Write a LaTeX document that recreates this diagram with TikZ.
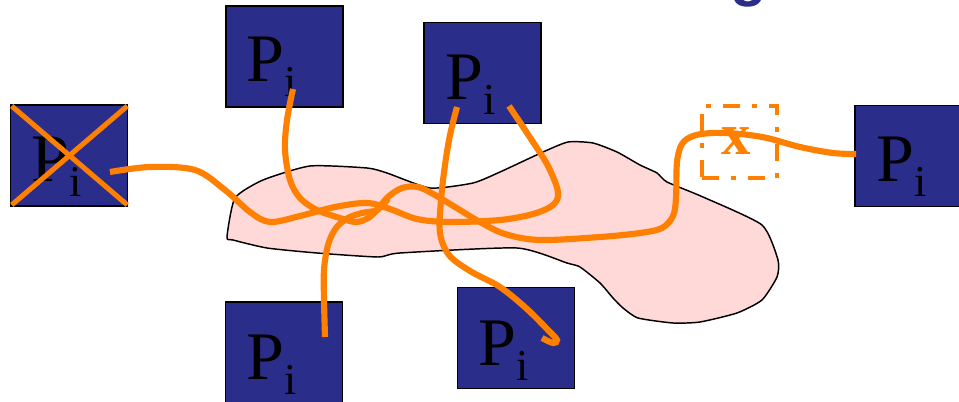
\documentclass[tikz,border=0pt]{standalone}
\usepackage{fontspec}
\setmainfont{Liberation Serif}
\newfontfamily\titlefont{Liberation Sans}
\usetikzlibrary{calc}
\definecolor{boxblue}{RGB}{43,45,139}
\definecolor{wireorange}{RGB}{255,128,0}
\definecolor{blobpink}{RGB}{255,216,216}
\newcommand{\Pisub}{P\raisebox{-11.25pt}{\fontsize{33pt}{33pt}\selectfont i}}
\tikzset{
  pbox/.style={draw=black, line width=1.1pt, fill=boxblue, rectangle, inner sep=0pt,
    minimum width=87.75pt, minimum height=76pt},
  ptext/.style={anchor=base west, inner sep=0pt, text=black, font=\fontsize{51pt}{51pt}\selectfont},
  wire/.style={draw=wireorange, line width=4.6pt},
  crossline/.style={draw=wireorange, line width=3.8pt},
  xbox/.style={draw=wireorange, line width=3pt, rectangle, inner sep=0pt,
    minimum width=56.25pt, minimum height=54pt,
    dash pattern=on 12.75pt off 9pt on 3.75pt off 9pt, dash phase=0pt},
  blob/.style={draw=black, line width=1.1pt, fill=blobpink}
}
\begin{document}
\begin{tikzpicture}[x=0.75pt,y=-0.75pt]
\useasboundingbox (0,0) rectangle (959,402);
% title fragment at the top
\node[anchor=base west, inner sep=0pt, text=boxblue, font=\titlefont\bfseries\fontsize{45pt}{45pt}\selectfont] (ttl) at (730.6,-5.6) {g};
% region
\path[blob] plot[smooth cycle, tension=0.35] coordinates {
 (227,237) (235,198) (263,180) (310,166) (367,168) (387,173) (430,188) (473,183)
 (500,172) (543,152) (568,142) (593,143) (617,152) (640,165) (657,173) (667,182)
 (703,197) (762,225) (778,260) (777,277) (762,300) (737,313) (700,322) (673,323)
 (638,318) (623,308) (613,298) (600,283) (580,267) (567,263) (517,248) (400,253)
 (378,257) (317,253) (267,248) (233,240)};
% boxes
\node[pbox] (bx) at (69,155.5) {};
\node[pbox] (b1) at (284.5,56.5) {};
\node[pbox] (b2) at (482.5,73) {};
\node[pbox] (b3) at (284,352.5) {};
\node[pbox] (b4) at (516,338) {};
\node[pbox] (b5) at (913.5,156) {};
% labels
\node[ptext] (tx) at (31,182) {\Pisub};
\node[ptext] (t1) at (246,82) {\Pisub};
\node[ptext] (t2) at (445,100) {\Pisub};
\node[ptext] (t3) at (246,379) {\Pisub};
\node[ptext] (t4) at (478,365) {\Pisub};
\node[ptext] (t5) at (876,182) {\Pisub};
% crossed out
\draw[crossline] ($(bx.north west)+(2,2)$) -- ($(bx.south east)+(-1,-2)$);
\draw[crossline] ($(bx.north east)+(-1,2)$) -- ($(bx.south west)+(2,-2)$);
% failure point
\node[xbox] (xb) at (739.5,142) {};
\node[inner sep=0pt, text=wireorange, font=\bfseries\fontsize{44pt}{44pt}\selectfont] (xt) at (736.5,141) {x};
% wire end points
\coordinate (ax) at (110,172);
\coordinate (a2r) at (509,106);
\coordinate (a1) at (293,89);
\coordinate (a5) at (856,154);
\coordinate (a3) at (325,337);
\coordinate (a2l) at (457,107);
\coordinate (a4) at (542,338);
% wires
\draw[wire] plot[smooth, tension=0.55] coordinates {(ax) (150,167) (195,170) (225,190)
 (250,212) (270,222) (300,216) (335,207) (367,203) (390,209) (417,219) (450,222)
 (500,220) (533,214) (553,205) (558,192) (548,166) (531,139) (a2r)};
\draw[wire] plot[smooth, tension=0.55] coordinates {(a1) (287,120) (285,150) (290,180)
 (300,198) (317,210) (340,218) (356,222) (368,218) (377,210) (388,197) (402,188)
 (418,187) (435,195) (455,207) (480,222) (505,234) (540,240) (600,237) (640,233)
 (662,228) (673,216) (676,198) (677,162) (682,144) (693,136) (712,133) (740,134)
 (767,138) (800,147) (833,153) (a5)};
\draw[wire] plot[smooth, tension=0.55] coordinates {(a3) (324,300) (324,270) (328,245)
 (336,228) (348,218) (362,213) (377,210) (388,199)};
\draw[wire] plot[smooth, tension=0.55] coordinates {(a2l) (450,135) (445,165) (441,200)
 (440,233) (449,255) (470,271) (500,287) (527,309) (549,331) (557,340) (553,343)
 (a4)};
\end{tikzpicture}
\end{document}
